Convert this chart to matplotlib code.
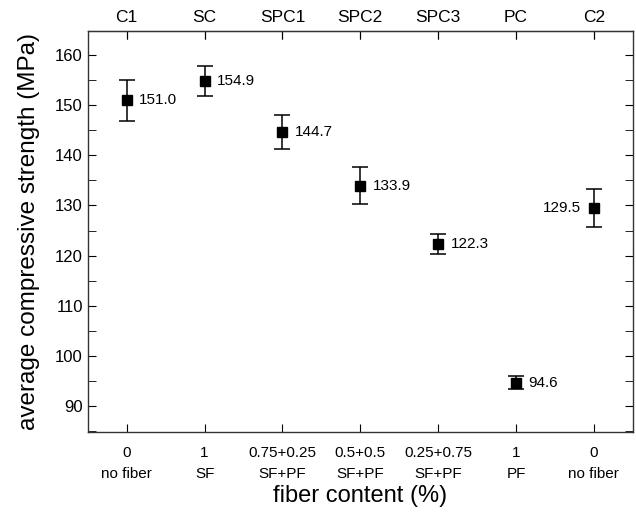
import matplotlib.pyplot as plt
import matplotlib.ticker as mticker

plt.rcParams['font.family'] = ['Liberation Sans', 'DejaVu Sans']

groups = ['C1', 'SC', 'SPC1', 'SPC2', 'SPC3', 'PC', 'C2']
content = ['0\nno fiber', '1\nSF', '0.75+0.25\nSF+PF', '0.5+0.5\nSF+PF',
           '0.25+0.75\nSF+PF', '1\nPF', '0\nno fiber']
strength = [151.0, 154.9, 144.7, 133.9, 122.3, 94.6, 129.5]
err = [4.1, 3.0, 3.4, 3.7, 2.0, 1.3, 3.8]

x = list(range(len(groups)))

fig = plt.figure(figsize=(6.36, 5.14), dpi=100)
ax = fig.add_axes([0.138, 0.1595, 0.857, 0.7802])

ax.errorbar(x, strength, yerr=err, fmt='s', color='black', ms=7,
            capsize=6, elinewidth=1.1, capthick=1.1)

# value labels, C2 label goes on the left
for i, v in enumerate(strength):
    if i == len(strength) - 1:
        ax.annotate('%.1f' % v, (i, v), xytext=(-9, 0), textcoords='offset points',
                    ha='right', va='center', fontsize=11)
    else:
        ax.annotate('%.1f' % v, (i, v), xytext=(9, 0), textcoords='offset points',
                    ha='left', va='center', fontsize=11)

ax.set_xlim(-0.5, 6.5)
ax.set_ylim(84.8, 164.8)
ax.yaxis.set_major_locator(mticker.MultipleLocator(10))
ax.yaxis.set_minor_locator(mticker.MultipleLocator(5))

ax.set_xticks(x)
ax.set_xticklabels(content, fontsize=11, linespacing=1.6)
ax.tick_params(axis='x', direction='in', length=6, pad=10, top=True)
ax.tick_params(axis='y', which='major', direction='in', length=6, labelsize=12, right=True)
ax.tick_params(axis='y', which='minor', direction='in', length=6, right=True)

top = ax.secondary_xaxis('top')
top.set_xticks(x)
top.set_xticklabels(groups, fontsize=12.5)
top.tick_params(direction='in', length=6, pad=4)

ax.set_xlabel('fiber content (%)', fontsize=17, labelpad=3)
ax.set_ylabel('average compressive strength (MPa)', fontsize=17.5, labelpad=11)

for s in ax.spines.values():
    s.set_linewidth(1.0)
    s.set_color('#333333')

fig.savefig('out.png', dpi=100)
